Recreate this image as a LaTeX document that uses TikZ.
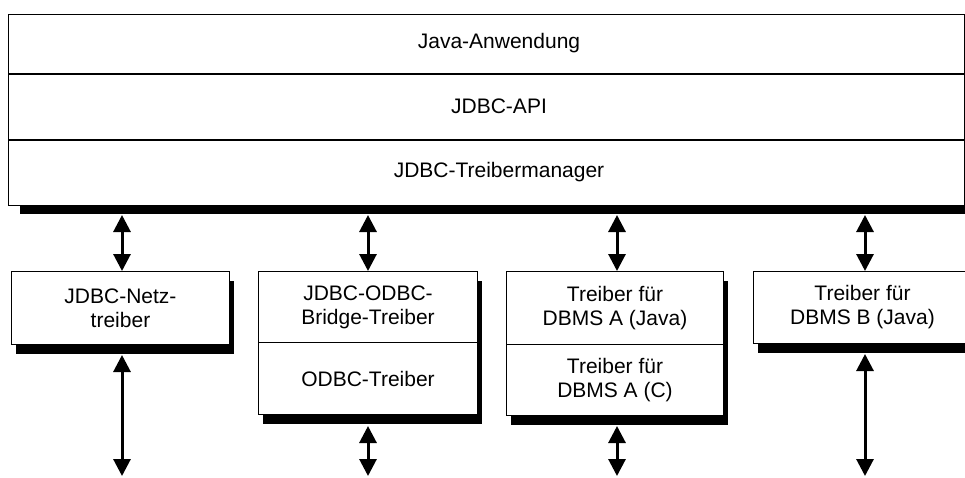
\documentclass[tikz,border=0pt]{standalone}
\usepackage{fontspec}
\setmainfont{Liberation Sans}
\usetikzlibrary{arrows.meta,shadows}
\begin{document}
\begin{tikzpicture}[x=1pt,y=-1pt,
  txt/.style={font=\fontsize{21}{24}\selectfont, align=center},
  cell/.style={txt, draw, line width=1pt, fill=white, inner sep=0pt, anchor=north west},
  lowshadow/.style={drop shadow={shadow xshift=4pt, shadow yshift=-9pt, opacity=1, fill=black}},
  topshadow/.style={drop shadow={shadow xshift=11pt, shadow yshift=-8pt, opacity=1, fill=black}},
  arr/.style={line width=3pt, {Triangle[length=17pt,width=17pt]}-{Triangle[length=17pt,width=17pt]}},
  divider/.style={line width=2pt}
]
\useasboundingbox (0,0) rectangle (965,477);

% top stack
\node[cell, topshadow, minimum width=956pt, minimum height=59pt] (r1) at (8,14) {};
\node[cell, topshadow, minimum width=956pt, minimum height=66pt] (r2) at (8,73) {};
\node[cell, topshadow, minimum width=956pt, minimum height=66pt] (r3) at (8,139) {};
\draw[divider] (r1.south west) -- (r1.south east);
\draw[divider] (r2.south west) -- (r2.south east);
\node[txt] (t1) at (499,43.5) {Java-Anwendung};
\node[txt] (t2) at (499,106) {JDBC-API};
\node[txt] (t3) at (499,172) {JDBC-Treibermanager};

% lower boxes
\node[cell, lowshadow, minimum width=218pt, minimum height=73pt] (b1) at (11,271) {JDBC-Netz-\\treiber};

\node[cell, lowshadow, minimum width=219pt, minimum height=71pt] (b2a) at (258,271) {JDBC-ODBC-\\Bridge-Treiber};
\node[cell, lowshadow, minimum width=219pt, minimum height=72pt] (b2b) at (258,342) {ODBC-Treiber};

\node[cell, lowshadow, minimum width=217pt, minimum height=73pt] (b3a) at (506,271) {Treiber für\\DBMS A (Java)};
\node[cell, lowshadow, minimum width=217pt, minimum height=71pt] (b3b) at (506,344) {Treiber für\\DBMS A (C)};

\node[cell, lowshadow, minimum width=218pt, minimum height=72pt] (b4) at (753,271) {Treiber für\\DBMS B (Java)};

% arrow columns
\coordinate (c1) at (122,215);
\coordinate (c2) at (368,215);
\coordinate (c3) at (617,215);
\coordinate (c4) at (865,215);
\coordinate (e1) at (122,476);
\coordinate (e2) at (368,476);
\coordinate (e3) at (617,476);
\coordinate (e4) at (865,476);

\draw[arr] (c1) -- (c1 |- b1.north);
\draw[arr] (c2) -- (c2 |- b2a.north);
\draw[arr] (c3) -- (c3 |- b3a.north);
\draw[arr] (c4) -- (c4 |- b4.north);

\draw[arr] ([yshift=-10pt]e1 |- b1.south) -- (e1);
\draw[arr] ([yshift=-11pt]e2 |- b2b.south) -- (e2);
\draw[arr] ([yshift=-10pt]e3 |- b3b.south) -- (e3);
\draw[arr] ([yshift=-10pt]e4 |- b4.south) -- (e4);
\end{tikzpicture}
\end{document}
